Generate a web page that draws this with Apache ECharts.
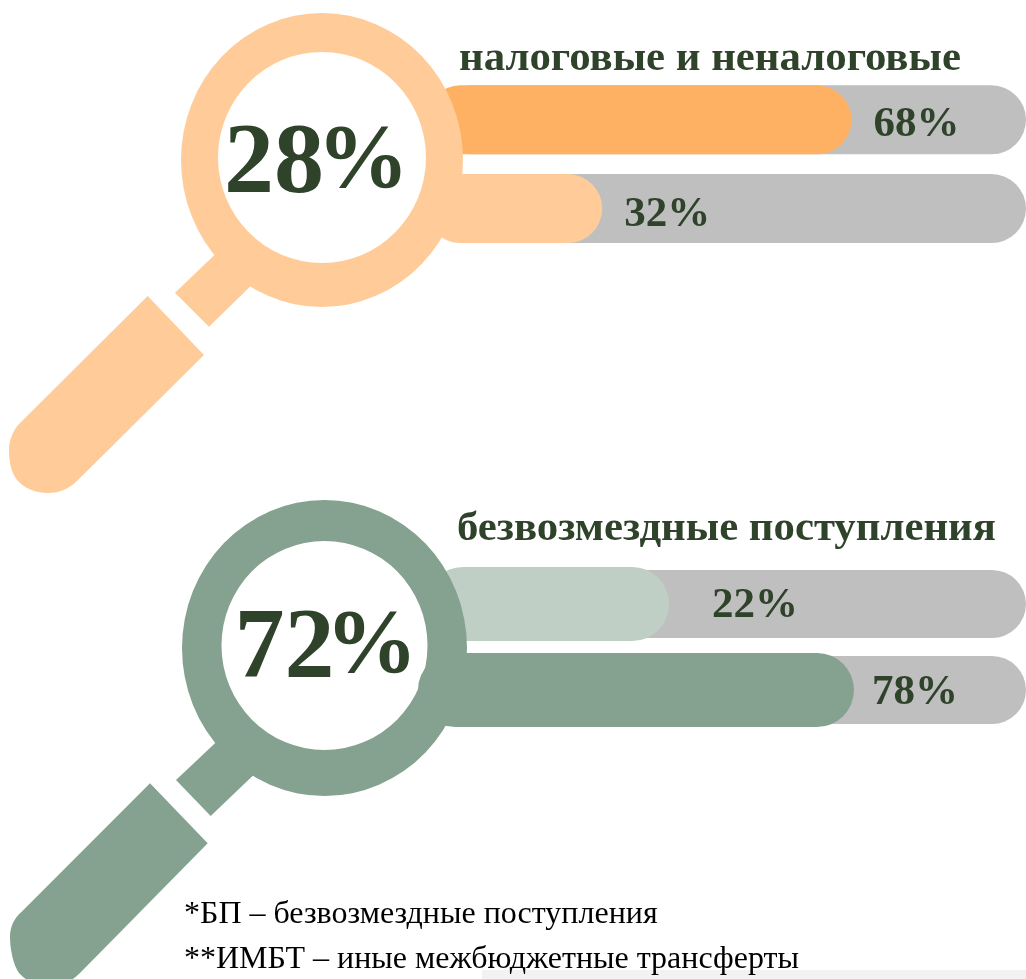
<!DOCTYPE html>
<html><head><meta charset="utf-8">
<style>html,body{margin:0;padding:0;background:#fff}#c{width:1026px;height:979px}</style>
<script src="https://cdn.jsdelivr.net/npm/echarts@6/dist/echarts.min.js"></script>
</head><body><div id="c"></div>
<script>
// Data
const topTitle = 'налоговые и неналоговые';
const bottomTitle = 'безвозмездные поступления';
const topShare = '28%';
const bottomShare = '72%';
const topCategories = ['налоговые', 'неналоговые'];
const bottomCategories = ['БП', 'ИМБТ'];
const topLabels = ['68%', '32%'];
const bottomLabels = ['22%', '78%'];
// bar lengths as drawn in the picture, in track units (whole track = 100)
const topStart = [1.3, 1.3];
const topFill = [70.0, 29.0];
const bottomStart = [1.3, 0];
const bottomFill = [40.0, 71.7];
const trackStart = [3.1, 3.1];
const trackFill = [96.9, 96.9];
const notes = ['*БП – безвозмездные поступления', '**ИМБТ – иные межбюджетные трансферты'];

const SERIF = '"Liberation Serif","Times New Roman",serif';
const INK = '#2F432B', TRACK = '#BFBFBF';
const PEACH = '#FFCC99', ORANGE = '#FFB163', SAGE = '#84A28F', PALE = '#BFCFC5';

const grids = [], xAxes = [], yAxes = [], series = [];
function layer(top, height, cats, starts, fills, barW, colors, labels, dist, dy, z) {
  const i = grids.length;
  grids.push({left: 418, width: 608, top, height, containLabel: false, show: false});
  xAxes.push({type: 'value', gridIndex: i, min: 0, max: 100, show: false});
  yAxes.push({type: 'category', gridIndex: i, data: cats, inverse: true, show: false});
  const stack = 's' + i;
  const r = barW / 2;
  series.push({type: 'bar', xAxisIndex: i, yAxisIndex: i, stack, barWidth: barW, z, silent: true,
    itemStyle: {color: 'transparent'}, data: starts});
  series.push({type: 'bar', xAxisIndex: i, yAxisIndex: i, stack, barWidth: barW, z, silent: true,
    data: fills.map((v, k) => ({
      value: v,
      itemStyle: {color: colors[k], borderRadius: r},
      label: labels ? {show: true, position: 'right', distance: dist[k], offset: [0, dy[k]],
        formatter: labels[k], fontFamily: SERIF, fontWeight: 'bold', fontSize: 43, color: INK} : {show: false}
    }))});
}
layer(75.4, 177.5, topCategories, trackStart, trackFill, 69, [TRACK, TRACK], null, null, null, 2);
layer(75.4, 177.5, topCategories, topStart, topFill, 69, [ORANGE, PEACH], topLabels, [22, 22], [5, 6], 3);
layer(561, 172, bottomCategories, trackStart, trackFill, 68, [TRACK, TRACK], null, null, null, 2);
layer(561, 172, bottomCategories, bottomStart, bottomFill, 74, [PALE, SAGE], bottomLabels, [43, 18], [2, 3], 3);

function ringPath(cx, cy, rx, ry, ix, iy, iry, irx) {
  return `M${cx - rx} ${cy}A${rx} ${ry} 0 1 1 ${cx + rx} ${cy}A${rx} ${ry} 0 1 1 ${cx - rx} ${cy}Z` +
    `M${ix - irx} ${iy}A${irx} ${iry} 0 1 0 ${ix + irx} ${iy}A${irx} ${iry} 0 1 0 ${ix - irx} ${iy}Z`;
}
const shapes = [
  [ringPath(322, 160, 141, 147, 322, 157.5, 105.5, 104), PEACH],
  ['M228 242L175 292.7L209 326.7L262 275Z', PEACH],
  ['M147.7 296L204 355L78 480C68 490 58 493 48 493C35 493 24 488 17 480C11 472 9 461 9 450C9 440 13 430 20 423Z', PEACH],
  [ringPath(324.5, 648, 142.5, 148, 324.5, 645.5, 104.5, 103), SAGE],
  ['M228 731L176 780L210.7 816L264 765Z', SAGE],
  ['M150 783.3L207.7 843.3L80 973C70 983 60 986 50 986C37 986 26 981 19 973C13 965 10 948 10 937C10 927 14 918 21.7 911.7Z', SAGE]
];
series.push({type: 'custom', coordinateSystem: 'none', z: 10, silent: true, data: [0],
  renderItem: () => ({type: 'group', children: shapes.map(([pathData, fill]) => ({
    type: 'path', shape: {pathData}, style: {fill}}))})});

const txt = (x, y, text, font, fill, scaleX) => ({type: 'text', z: 20, silent: true, x, y, scaleX: scaleX || 1,
  style: {text, font, fill, textVerticalAlign: 'middle'}});

function big(x, y, s, w) {
  return {type: 'text', z: 20, silent: true, x, y, style: {
    text: `{a|${s.slice(0, 2)}}{b|%}`, textVerticalAlign: 'middle',
    rich: {a: {fontFamily: SERIF, fontWeight: 'bold', fontSize: 100, fill: INK, width: w},
           b: {fontFamily: SERIF, fontWeight: 'bold', fontSize: 92, fill: INK, padding: [0, 0, 4, 0]}}
  }};
}

const graphic = [
  {type: 'rect', z: 0, silent: true, shape: {x: 482, y: 970, width: 544, height: 9}, style: {fill: '#F2F2F2'}},
  txt(459, 60, topTitle, `bold 40px ${SERIF}`, INK, 1.07),
  txt(457, 530, bottomTitle, `bold 40px ${SERIF}`, INK, 1.07),
  big(224, 165, topShare, 93),
  big(234.5, 650, bottomShare, 91),
  txt(184, 915, notes[0], `32px ${SERIF}`, '#000'),
  txt(184, 960, notes[1], `32px ${SERIF}`, '#000')
];

const chart = echarts.init(document.getElementById('c'), null, {renderer: 'canvas'});
chart.setOption({animation: false, backgroundColor: '#fff', grid: grids, xAxis: xAxes, yAxis: yAxes, series, graphic});
</script></body></html>
